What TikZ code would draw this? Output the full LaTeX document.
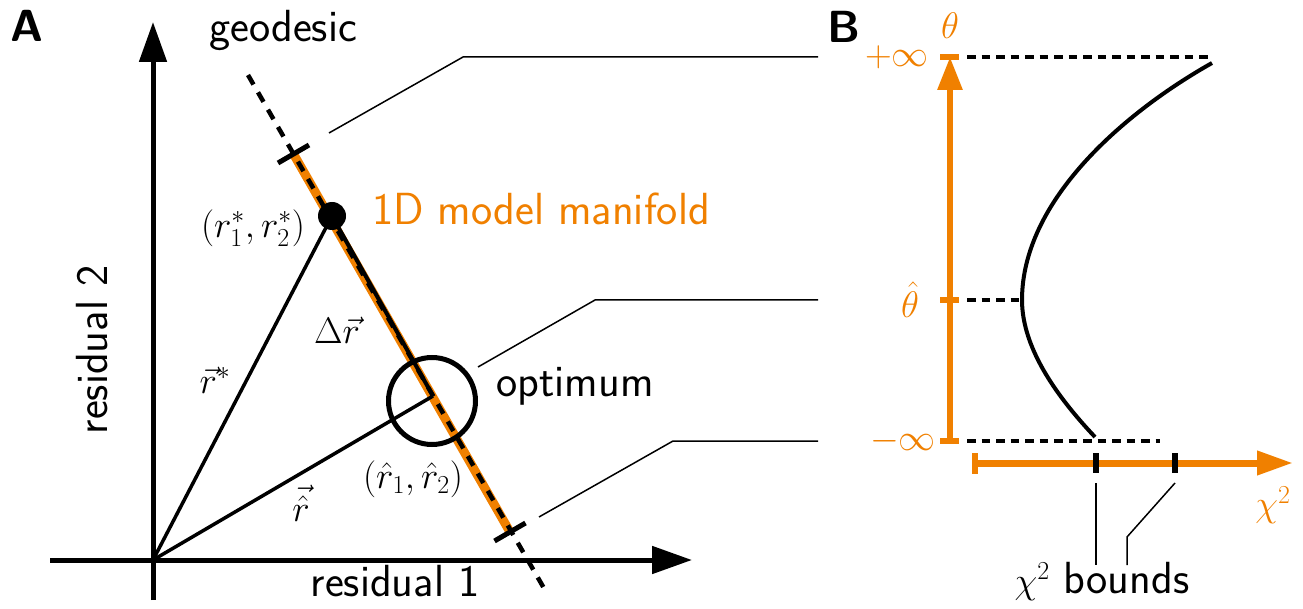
\RequirePackage{fix-cm}
\documentclass[tikz,border=0pt]{standalone}
\usepackage{amsmath}
\usepackage[no-math]{fontspec}
\usetikzlibrary{arrows.meta}
\definecolor{orng}{RGB}{240,128,0}
\begin{document}
\begin{tikzpicture}[x=1pt,y=-1pt,
  txt/.style={font=\sffamily\fontsize{45}{52}\selectfont, inner sep=0pt},
  mth/.style={font=\fontsize{37}{44}\selectfont, inner sep=0pt},
  lbl/.style={font=\sffamily\bfseries\fontsize{45}{52}\selectfont, inner sep=0pt},
  axisarr/.style={line width=5pt, -{Triangle[length=40pt,width=27pt]}},
  vecline/.style={line width=3.5pt},
  geoline/.style={line width=4.5pt, dash pattern=on 11pt off 9pt},
  hdash/.style={line width=4pt, dash pattern=on 8.5pt off 6pt},
  conn/.style={line width=1.5pt},
  tickbar/.style={line width=5pt},
  otick/.style={orng, line width=6pt},
]
\useasboundingbox (0,0) rectangle (1303,609);

% ---------- Panel A ----------
\coordinate (O) at (153,560);
\coordinate (ytop) at (153,22);
\coordinate (ybot) at (153,600);
\coordinate (xleft) at (50,560);
\coordinate (xtip) at (692,560);
\coordinate (g1) at (248,75);
\coordinate (g2) at (545,590);
\coordinate (t1) at (293.5,154);
\coordinate (t2) at (510,532);
\coordinate (rs) at (332,216);
\coordinate (rh) at (433,396);
\coordinate (oc) at (432,401);

\draw[axisarr] (ybot) -- (ytop);
\draw[axisarr] (xleft) -- (xtip);

\draw[orng, line width=9pt] (t1) -- (t2);
\draw[vecline] (O) -- (rs);
\draw[vecline] (O) -- (rh);
\draw[geoline] (g1) -- (g2);
\draw[line width=4pt] (rs) -- (rh);
\draw[tickbar] ([shift={(-15.5,9)}]t1) -- ([shift={(15.5,-9)}]t1);
\draw[tickbar] ([shift={(-15.5,9)}]t2) -- ([shift={(15.5,-9)}]t2);
\fill (rs) circle (14pt);
\draw[line width=5pt] (oc) circle (43.5pt);

% connectors to panel B
\coordinate (c1a) at (329,133); \coordinate (c1b) at (463,57); \coordinate (c1c) at (818,57);
\coordinate (c2a) at (478,367); \coordinate (c2b) at (595,300); \coordinate (c2c) at (818,300);
\coordinate (c3a) at (539,517); \coordinate (c3b) at (673,441); \coordinate (c3c) at (818,441);
\draw[conn] (c1a) -- (c1b) -- (c1c);
\draw[conn] (c2a) -- (c2b) -- (c2c);
\draw[conn] (c3a) -- (c3b) -- (c3c);

% labels A
\node[lbl] (labA) at (27,26) {A};
\node[txt, anchor=base] (geo) at (283,42) {geodesic};
\node[txt, anchor=base] (res1) at (395,596) {residual 1};
\node[txt, anchor=base, rotate=90] (res2) at (107,350) {residual 2};
\node[txt, anchor=base, text=orng] (mani) at (541,225) {1D model manifold};
\node[txt, anchor=base] (opt) at (575,396) {optimum};
\node[mth] (rsl) at (253,228) {$(r_1^*,r_2^*)$};
\node[mth] (dr) at (337,330) {$\Delta\vec r$};
\node[mth] (rsv) at (215,380) {$\vec r^{*}$};
\node[mth] (rhl) at (413,479) {$(\hat r_1,\hat r_2)$};
\node[mth] (rhv) at (301,503) {$\vec{\hat r}$};

% ---------- Panel B ----------
\coordinate (tbot) at (950,441);
\coordinate (ttop) at (950,57);
\coordinate (cleft) at (975,463);
\coordinate (ctip) at (1293,463);

\draw[hdash] (967,57) -- (1212,57);
\draw[hdash] (967,300) -- (1022,300);
\draw[hdash] (967,441) -- (1160,441);

\draw[orng, line width=6pt, -{Triangle[length=33pt,width=24pt]}] (tbot) -- (ttop);
\draw[otick] (940,57) -- (959,57);
\draw[otick] (940,300) -- (959,300);
\draw[otick] (940,441) -- (959,441);

\draw[orng, line width=7pt, -{Triangle[length=36pt,width=23pt]}] (cleft) -- (ctip);
\draw[otick] (975,453) -- (975,474);
\draw[line width=6pt] (1096,453) -- (1096,473);
\draw[line width=6pt] (1175,453) -- (1175,473);

\draw[line width=4pt] (1212,63) .. controls (1125,112) and (1022,200) .. (1022,300)
  .. controls (1022,350) and (1060,400) .. (1095,437);

\coordinate (b1a) at (1096,483); \coordinate (b1b) at (1096,565);
\coordinate (b2a) at (1175,483); \coordinate (b2b) at (1127,537); \coordinate (b2c) at (1127,565);
\draw[conn] (b1a) -- (b1b);
\draw[conn] (b2a) -- (b2b) -- (b2c);

% labels B
\node[lbl] (labB) at (844,27) {B};
\node[mth, text=orng] (th) at (950,26) {$\theta$};
\node[mth, text=orng, anchor=east] (pinf) at (929,57) {$+\infty$};
\node[mth, text=orng] (thh) at (910,300) {$\hat\theta$};
\node[mth, text=orng, anchor=east] (minf) at (936,441) {$-\infty$};
\node[mth, text=orng] (chi) at (1273,505) {$\chi^2$};
\node[txt, anchor=base] (bounds) at (1102,593) {{\fontsize{37}{44}\selectfont$\chi^2$} bounds};
\end{tikzpicture}
\end{document}
